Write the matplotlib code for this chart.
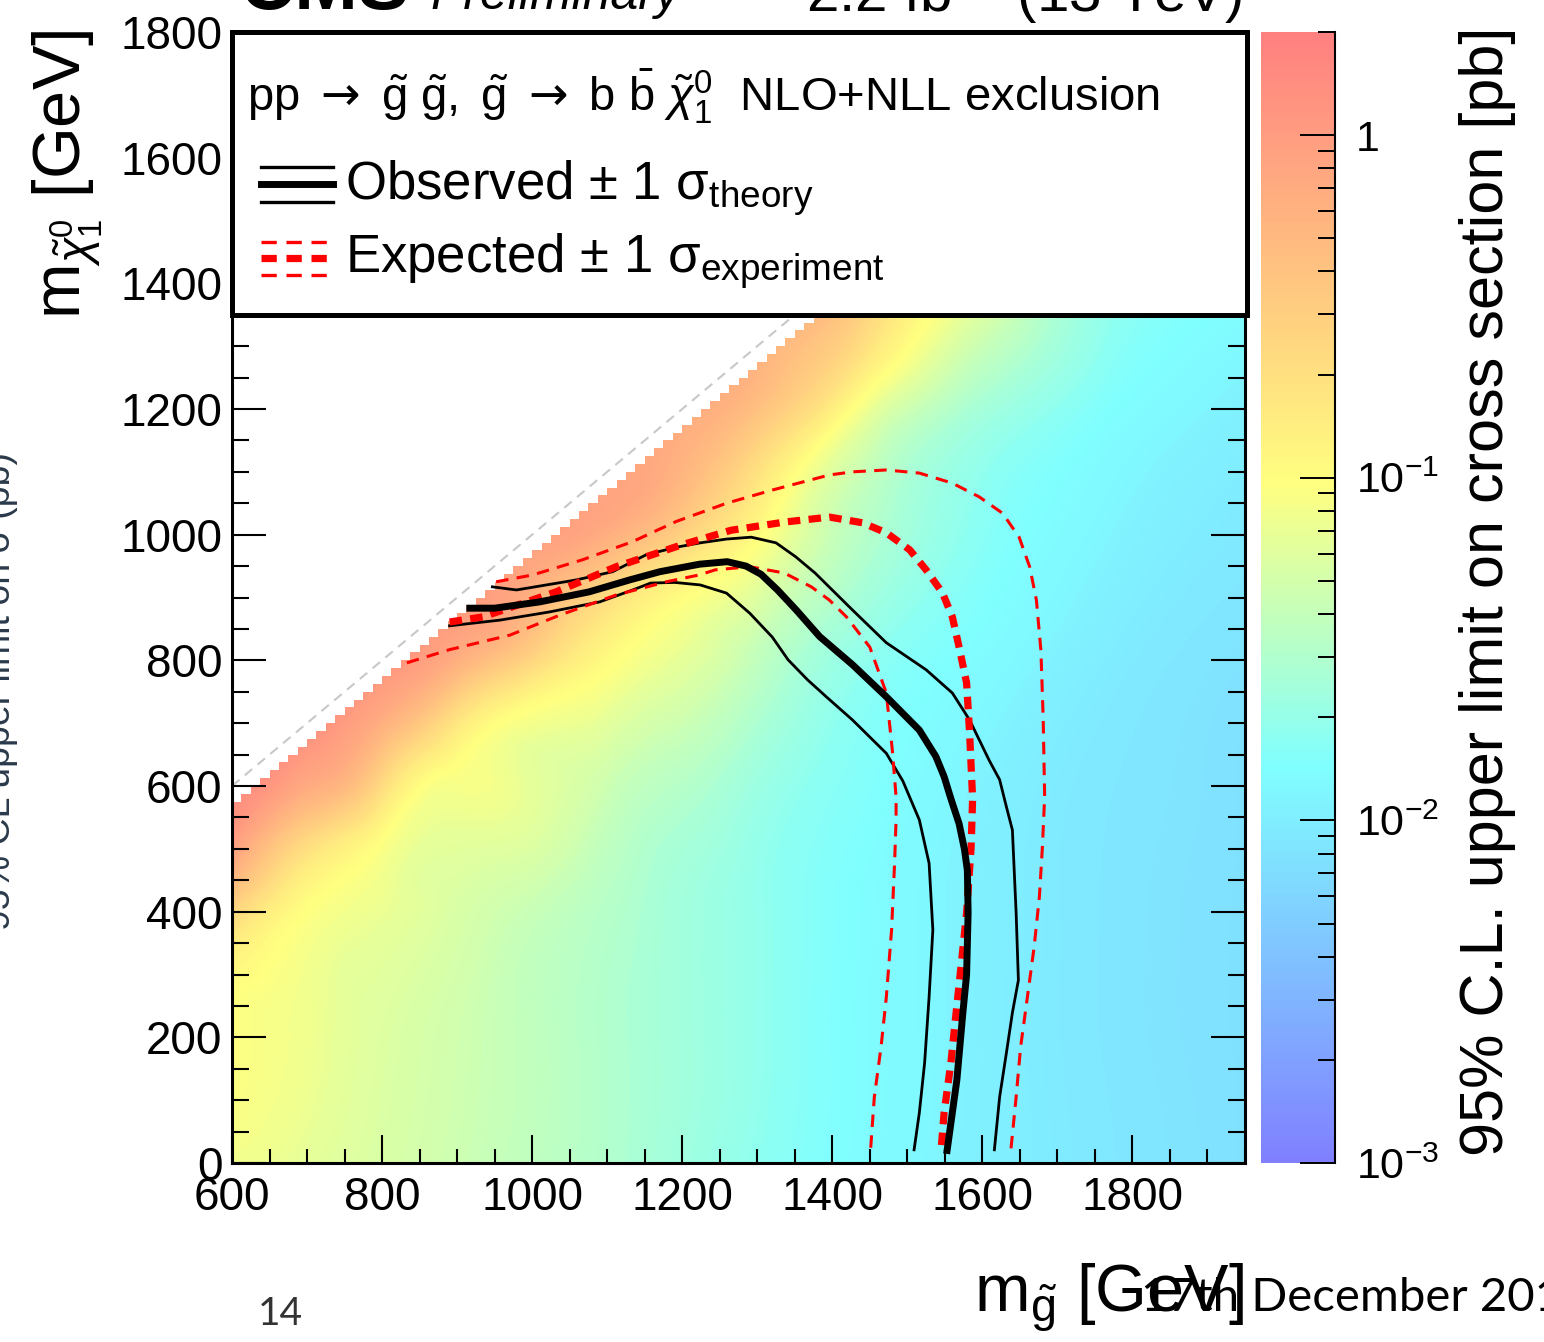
import numpy as np
import matplotlib
matplotlib.use("Agg")
import matplotlib.pyplot as plt
import matplotlib.tri as mtri
from matplotlib.colors import LinearSegmentedColormap, LogNorm
from matplotlib.patches import Rectangle
from matplotlib.lines import Line2D

plt.rcParams['font.family'] = ['Liberation Sans', 'DejaVu Sans']
plt.rcParams['mathtext.fontset'] = 'custom'
plt.rcParams['mathtext.rm'] = 'Liberation Sans'
plt.rcParams['mathtext.it'] = 'Liberation Sans:italic'
plt.rcParams['mathtext.bf'] = 'Liberation Sans:bold'
plt.rcParams['mathtext.sf'] = 'DejaVu Sans'
plt.rcParams['lines.scale_dashes'] = False

# --- 95% CL upper limit (pb), read off the colour scale -------------------
# full rows at m_LSP = 0, 200, 400
grid_mgl = [600, 700, 800, 900, 1000, 1100, 1200, 1300, 1400, 1500, 1600, 1700, 1800, 1950]
xsec_lsp0 = [0.079, 0.066, 0.054, 0.045, 0.037, 0.030, 0.023, 0.018, 0.0145, 0.0123, 0.0107, 0.0095, 0.0085, 0.0076]
xsec_lsp200 = [0.093, 0.076, 0.058, 0.047, 0.038, 0.030, 0.024, 0.019, 0.0148, 0.0126, 0.0107, 0.0093, 0.0083, 0.0076]
xsec_lsp400 = [0.25, 0.095, 0.071, 0.054, 0.042, 0.032, 0.024, 0.019, 0.015, 0.0126, 0.0107, 0.0093, 0.0083, 0.0076]

# further points (m_gluino, m_LSP, limit)
pts_mgl = [600, 600, 700, 800,
           650, 700, 750, 800, 850, 900, 1000, 1100, 1200, 1300, 1400, 1500, 1600, 1700, 1800, 1950,
           750, 800, 850, 950,
           850, 900, 950, 1000, 1100, 1200, 1300, 1400, 1500, 1600, 1700, 1800, 1950,
           950, 1000, 1050, 1200,
           1050, 1100, 1150, 1200, 1300, 1400, 1500, 1600, 1700, 1800, 1950,
           1150, 1200, 1250, 1350,
           1250, 1300, 1350, 1400, 1450, 1500, 1600, 1700, 1800, 1950,
           1350, 1400, 1450, 1500,
           1500, 1600, 1700, 1800, 1950,
           600, 700, 800, 900, 1000, 1100, 1200, 1300, 1412.5]
pts_mlsp = [300, 500, 500, 500,
            600, 600, 600, 600, 600, 600, 600, 600, 600, 600, 600, 600, 600, 600, 600, 600,
            700, 700, 700, 700,
            800, 800, 800, 800, 800, 800, 800, 800, 800, 800, 800, 800, 800,
            900, 900, 900, 900,
            1000, 1000, 1000, 1000, 1000, 1000, 1000, 1000, 1000, 1000, 1000,
            1100, 1100, 1100, 1100,
            1200, 1200, 1200, 1200, 1200, 1200, 1200, 1200, 1200, 1200,
            1300, 1300, 1300, 1300,
            1400, 1400, 1400, 1400, 1400,
            587.5, 687.5, 787.5, 887.5, 987.5, 1087.5, 1187.5, 1287.5, 1400]
pts_xsec = [0.11, 0.89, 0.20, 0.089,
            1.12, 0.71, 0.50, 0.22, 0.10, 0.083, 0.066, 0.045, 0.032, 0.022, 0.0166, 0.0135, 0.0112, 0.0095, 0.0085, 0.0076,
            1.0, 0.63, 0.35, 0.10,
            0.95, 0.63, 0.40, 0.25, 0.105, 0.066, 0.038, 0.022, 0.0158, 0.0132, 0.011, 0.0093, 0.0079,
            0.9, 0.6, 0.35, 0.10,
            0.85, 0.65, 0.45, 0.28, 0.105, 0.042, 0.024, 0.0166, 0.0132, 0.011, 0.0091,
            0.75, 0.55, 0.35, 0.10,
            0.6, 0.42, 0.26, 0.14, 0.071, 0.045, 0.025, 0.0178, 0.0135, 0.0107,
            0.45, 0.32, 0.18, 0.10,
            0.14, 0.071, 0.028, 0.018, 0.0145,
            1.4, 1.3, 1.15, 1.0, 0.9, 0.8, 0.7, 0.6, 0.5]

# --- exclusion contours (m_gluino, m_LSP) --------------------------------
obs_mgl = [917, 950, 1010, 1076, 1130, 1170, 1223, 1260, 1285, 1305, 1327, 1352, 1383, 1427, 1472, 1516, 1538, 1549, 1558, 1569, 1576, 1580, 1581, 1579, 1574, 1566, 1553]
obs_lsp = [883, 883, 893, 909, 928, 941, 953, 957, 950, 937, 912, 880, 838, 793, 742, 689, 647, 615, 580, 540, 500, 466, 398, 300, 239, 132, 20]
obs_up_mgl = [947, 979, 1059, 1107, 1152, 1192, 1224, 1259, 1292, 1325, 1351, 1377, 1427, 1472, 1525, 1560, 1583, 1609, 1623, 1632, 1640, 1645, 1648, 1640, 1632, 1623, 1616]
obs_up_lsp = [917, 912, 928, 941, 968, 980, 987, 993, 996, 987, 965, 939, 880, 828, 785, 748, 705, 641, 610, 567, 530, 398, 291, 239, 175, 105, 21]
obs_dn_mgl = [890, 957, 1023, 1090, 1134, 1158, 1190, 1224, 1259, 1290, 1320, 1341, 1367, 1392, 1427, 1472, 1494, 1516, 1529, 1534, 1529, 1523, 1516, 1509]
obs_dn_lsp = [855, 864, 877, 893, 912, 923, 924, 920, 907, 875, 837, 801, 769, 742, 705, 652, 608, 546, 477, 371, 264, 159, 80, 21]
exp_mgl = [890, 934, 1032, 1112, 1200, 1265, 1336, 1396, 1440, 1472, 1503, 1525, 1547, 1560, 1569, 1579, 1583, 1587, 1585, 1579, 1572, 1565, 1558, 1549, 1545]
exp_lsp = [861, 869, 909, 949, 984, 1007, 1020, 1028, 1019, 1003, 976, 944, 907, 869, 821, 764, 684, 580, 503, 398, 318, 239, 159, 80, 21]
exp_up_mgl = [952, 1001, 1067, 1134, 1192, 1259, 1320, 1396, 1427, 1472, 1516, 1560, 1596, 1627, 1649, 1663, 1672, 1678, 1681, 1683, 1680, 1676, 1669, 1660, 1651, 1645, 1638]
exp_up_lsp = [925, 936, 960, 989, 1021, 1050, 1071, 1095, 1100, 1103, 1098, 1082, 1060, 1034, 996, 949, 896, 816, 710, 583, 503, 424, 344, 264, 185, 105, 21]
exp_dn_mgl = [833, 890, 970, 1037, 1112, 1179, 1223, 1244, 1290, 1336, 1372, 1396, 1419, 1450, 1472, 1480, 1485, 1485, 1483, 1479, 1472, 1465, 1456, 1451]
exp_dn_lsp = [796, 817, 840, 872, 904, 925, 936, 944, 949, 939, 917, 896, 869, 821, 748, 657, 583, 546, 477, 371, 264, 185, 105, 21]

W, H = 1544, 1342
ZMIN, ZMAX = 1e-3, 2.0


def fx(px):
    return px / W


def fy(py):
    return 1 - py / H


fig = plt.figure(figsize=(W / 100, H / 100), dpi=100)
ax = fig.add_axes([fx(232), fy(1163), (1245 - 232) / W, (1163 - 32) / H])

cmap = LinearSegmentedColormap.from_list(
    'lim', [(0.0, '#8080ff'), (0.35, '#80ffff'), (0.6, '#ffff80'), (1.0, '#ff8080')])
norm = LogNorm(ZMIN, ZMAX)

mgl = np.concatenate([grid_mgl * 3, pts_mgl]).astype(float)
mlsp = np.concatenate([[0] * len(grid_mgl), [200] * len(grid_mgl), [400] * len(grid_mgl), pts_mlsp]).astype(float)
xsec = np.concatenate([xsec_lsp0, xsec_lsp200, xsec_lsp400, pts_xsec])
tri = mtri.Triangulation(mgl, mlsp)
# smooth the map on a finer mesh (log scale, like the colour axis)
tri_f, logz_f = mtri.UniformTriRefiner(tri).refine_field(np.log10(xsec), subdiv=3)
ax.tricontourf(tri_f, logz_f, levels=np.linspace(np.log10(ZMIN), np.log10(ZMAX), 240),
               cmap=cmap, extend='both', zorder=0, antialiased=False)

# white region above the 12.5 GeV staircase next to the diagonal
edges = np.arange(600, 1950 + 12.5, 12.5)
ax.fill_between(edges, edges - 25, 1900, step='post', color='white', lw=0, zorder=1)
ax.plot([600, 1950], [600, 1950], color='#c8c8c8', lw=1.5, dashes=(7, 5), zorder=1.5)

ax.plot(obs_up_mgl, obs_up_lsp, color='black', lw=2.0, zorder=3)
ax.plot(obs_dn_mgl, obs_dn_lsp, color='black', lw=2.0, zorder=3)
ax.plot(exp_up_mgl, exp_up_lsp, color='red', lw=2.2, dashes=(9, 6), zorder=3)
ax.plot(exp_dn_mgl, exp_dn_lsp, color='red', lw=2.2, dashes=(9, 6), zorder=3)
ax.plot(exp_mgl, exp_lsp, color='red', lw=5.2, dashes=(9, 6), zorder=3)
ax.plot(obs_mgl, obs_lsp, color='black', lw=5.0, zorder=4, solid_joinstyle='round')

ax.set_xlim(600, 1950)
ax.set_ylim(0, 1800)
ax.set_xticks(np.arange(600, 1801, 200))
ax.set_xticks(np.arange(600, 1951, 50), minor=True)
ax.set_yticks(np.arange(0, 1801, 200))
ax.set_yticks(np.arange(0, 1801, 50), minor=True)
ax.tick_params(axis='x', which='major', direction='in', length=20, width=1.5,
               top=True, bottom=True, labelsize=33, pad=9)
ax.tick_params(axis='x', which='minor', direction='in', length=10, width=1.5, top=True, bottom=True)
ax.tick_params(axis='y', which='major', direction='in', length=24.5, width=1.5,
               left=True, right=True, labelsize=33, pad=7)
ax.tick_params(axis='y', which='minor', direction='in', length=12, width=1.5, left=True, right=True)
for s in ax.spines.values():
    s.set_linewidth(2.2)

# colour bar
cax = fig.add_axes([fx(1261), fy(1163), 74 / W, 1131 / H])
sm = plt.cm.ScalarMappable(norm=norm, cmap=cmap)
cbar = fig.colorbar(sm, cax=cax)
cbar.outline.set_visible(False)
cax.plot([1, 1], [0, 1], transform=cax.transAxes, color='black', lw=1.5, clip_on=False)
cbar.set_ticks([1e-3, 1e-2, 1e-1, 1])
cbar.set_ticklabels([r'$10^{-3}$', r'$10^{-2}$', r'$10^{-1}$', '1'])
cbar.minorticks_on()
cax.tick_params(which='major', direction='in', length=25, width=1.4, right=True, left=False,
                labelsize=31, pad=15)
cax.tick_params(which='minor', direction='in', length=12.5, width=1.4, right=True, left=False)
fig.text(fx(1503), fy(27), '95% C.L. upper limit on cross section [pb]', rotation=90,
         rotation_mode='anchor', ha='right', va='baseline', fontsize=44)

# axis titles
fig.text(fx(1244), fy(1311), r'm$_{\tilde{\mathrm{g}}}$ [GeV]', ha='right', va='baseline', fontsize=48)
fig.text(fx(80), fy(30), r'm$_{\tilde{\chi}^{0}_{1}}$ [GeV]', rotation=90, rotation_mode='anchor',
         ha='right', va='baseline', fontsize=48)

# legend box
fig.add_artist(Rectangle((fx(232), fy(315)), (1247 - 232) / W, (315 - 32) / H,
                         transform=fig.transFigure, facecolor='white', edgecolor='black',
                         lw=3.6, zorder=5))
fig.text(fx(247), fy(111),
         r'$\mathrm{pp}\ \mathsf{\rightarrow}\ \tilde{\mathrm{g}}\ \tilde{\mathrm{g}},\ \tilde{\mathrm{g}}\ '
         r'\mathsf{\rightarrow}\ \mathrm{b}\ \bar{\mathrm{b}}\ \tilde{\chi}^{0}_{1}$  NLO+NLL exclusion',
         fontsize=34, va='baseline', zorder=7)
fig.text(fx(345), fy(200), r'Observed ± 1 $\mathrm{\sigma}_{\mathrm{theory}}$', fontsize=38,
         va='baseline', zorder=7)
fig.text(fx(345), fy(273), r'Expected ± 1 $\mathrm{\sigma}_{\mathrm{experiment}}$', fontsize=38,
         va='baseline', zorder=7)
for py, lw in [(167, 2.4), (184, 5.0), (202, 2.4)]:
    fig.add_artist(Line2D([fx(261), fx(333)], [fy(py), fy(py)], transform=fig.transFigure,
                          color='black', lw=lw, zorder=6))
for py, lw in [(242, 2.4), (258, 5.2), (275, 2.4)]:
    fig.add_artist(Line2D([fx(261), fx(333)], [fy(py), fy(py)], transform=fig.transFigure,
                          color='red', lw=lw, dashes=(11, 7), zorder=6))

# title, cut off at the top of the slide
fig.text(fx(240), fy(9), 'CMS', fontsize=55, fontweight='bold', va='baseline')
fig.text(fx(430), fy(9), 'Preliminary', fontsize=36, fontstyle='italic', va='baseline')
fig.text(fx(1242), fy(11), r'2.2 fb$^{-1}$ (13 TeV)', fontsize=42, ha='right', va='baseline')

# slide leftovers
fig.text(fx(10), fy(691), '95% CL upper limit on σ (pb)', rotation=90, rotation_mode='anchor',
         ha='center', va='baseline', fontsize=27, color='#2b3a4a')
fig.text(fx(258), fy(1325), '14', fontsize=28, color='#333333', va='baseline',
         family=['Lato', 'Liberation Sans'])
fig.text(fx(1141), fy(1311), '17th December 2015', fontsize=34, va='baseline', color='black',
         family=['Lato', 'Liberation Sans'])

fig.savefig('out.png', dpi=100)
